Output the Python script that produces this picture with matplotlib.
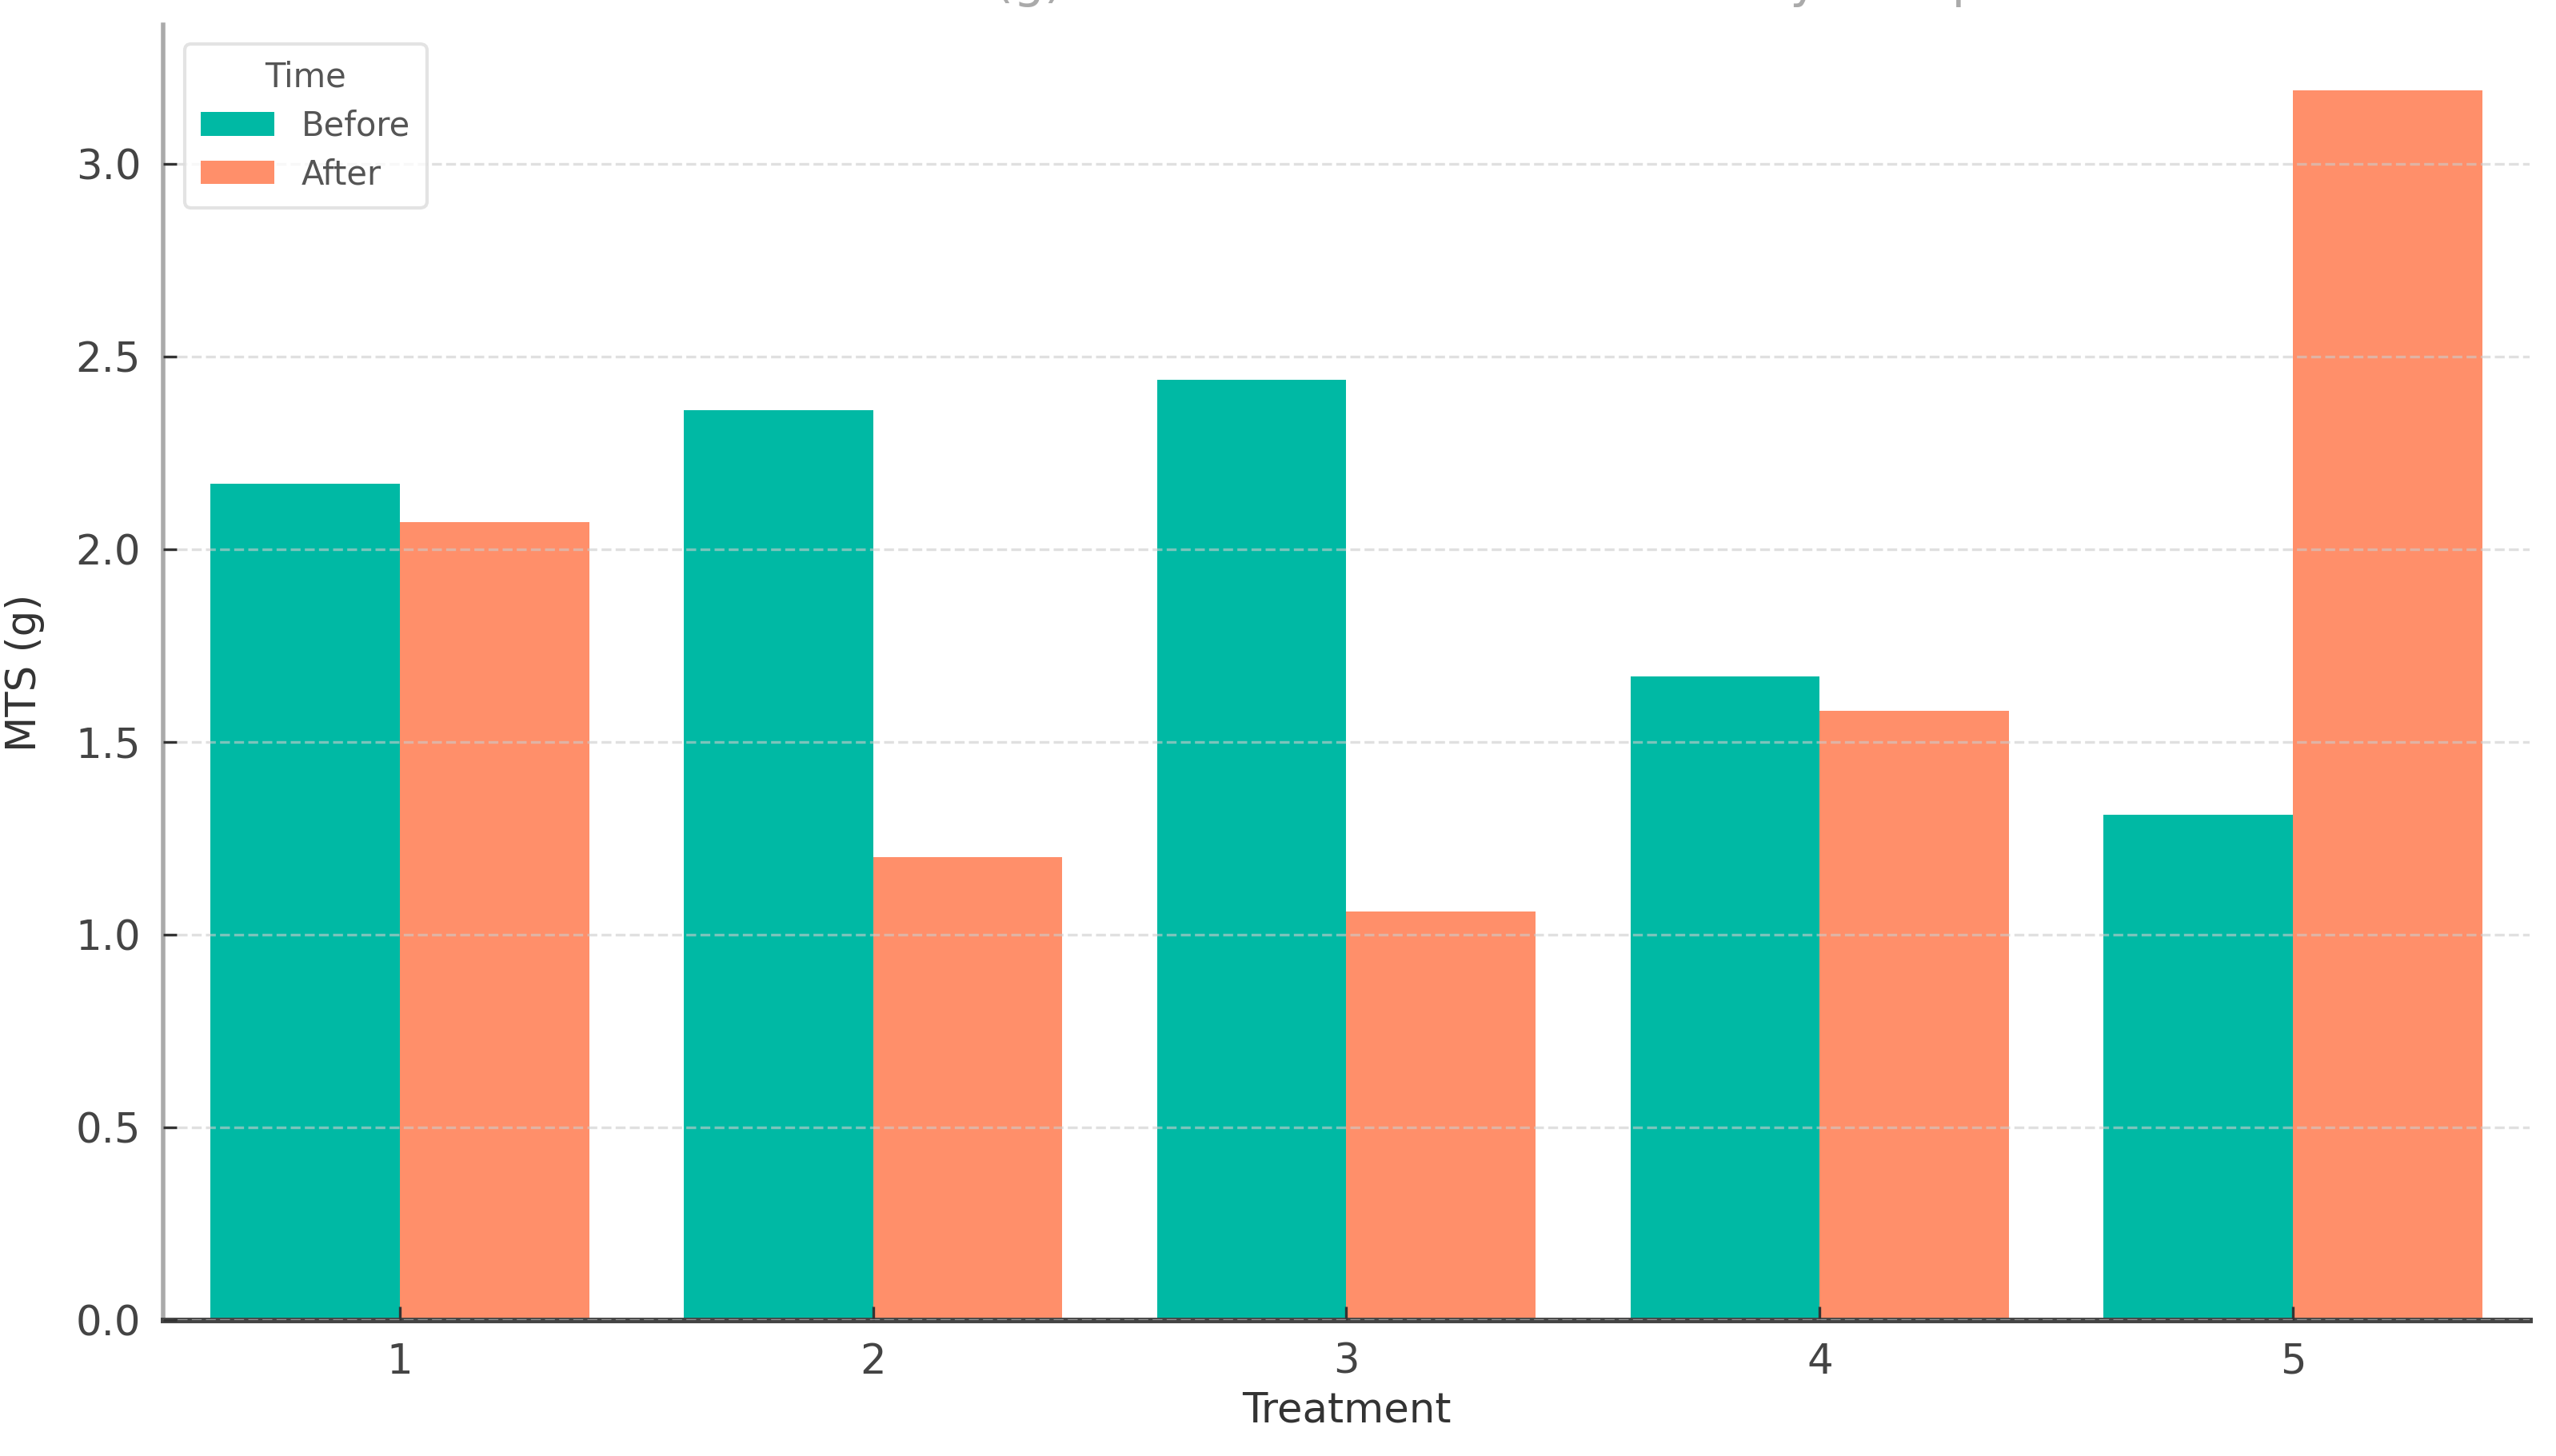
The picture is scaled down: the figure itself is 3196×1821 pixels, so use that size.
import numpy as np
import matplotlib
matplotlib.use("Agg")
import matplotlib.pyplot as plt

# Data
treatments = ["1", "2", "3", "4", "5"]
before = [2.17, 2.36, 2.44, 1.67, 1.31]
after = [2.07, 1.20, 1.06, 1.58, 3.19]
groups = ["Before", "After"]
colors = ["#00B9A4", "#FF8F6A"]

plt.rcParams["font.family"] = ["DejaVu Sans"]

fig = plt.figure(figsize=(15.98, 9.105), dpi=200)
ax = fig.add_axes([0.0638, 0.0934, 0.9259, 0.8896])

x = np.arange(len(treatments))
width = 0.4
ax.bar(x - width / 2, before, width, color=colors[0], label=groups[0], zorder=1)
ax.bar(x + width / 2, after, width, color=colors[1], label=groups[1], zorder=1)

ax.set_xlim(-0.5, len(treatments) - 0.5)
ax.set_ylim(0, 3.36)
ax.set_xticks(x)
ax.set_xticklabels(treatments)
ax.set_yticks(np.arange(0, 3.01, 0.5))
ax.set_yticklabels([f"{v:.1f}" for v in np.arange(0, 3.01, 0.5)])

ax.set_xlabel("Treatment", fontsize=18.5, color="#333333", labelpad=4)
ax.set_ylabel("MTS (g)", fontsize=18.5, color="#333333", labelpad=14)
ax.tick_params(axis="both", labelsize=18.5, labelcolor="#444444",
               direction="in", length=6, width=1.2, color="#333333", pad=10)

# Grid drawn faintly over the bars
ax.grid(axis="y", linestyle="--", color="#cccccc", alpha=0.6, linewidth=1.2, zorder=3)
ax.set_axisbelow(False)

for side in ["top", "right"]:
    ax.spines[side].set_visible(False)
ax.spines["left"].set_color("#aaaaaa")
ax.spines["left"].set_linewidth(2.0)
ax.spines["bottom"].set_color("#444444")
ax.spines["bottom"].set_linewidth(2.5)

leg = ax.legend(title="Time", loc="upper left", fontsize=15, title_fontsize=15,
                frameon=True, borderpad=0.5, handlelength=2.2, handleheight=0.7,
                labelspacing=0.45, handletextpad=0.8, bbox_to_anchor=(0.002, 0.998))
leg.get_frame().set_edgecolor("#dddddd")
leg.get_frame().set_linewidth(1.5)
for t in leg.get_texts():
    t.set_color("#555555")
leg.get_title().set_color("#555555")

# Title sits above the visible canvas, only its descenders show, as in the source image
fig.text(0.53, 1.0 + 4 / 1821, "Mean MTS (g) Before and After Treatment by Group",
         ha="center", va="baseline", fontsize=22, color="#aaaaaa")

fig.savefig("out.png", dpi=200)
